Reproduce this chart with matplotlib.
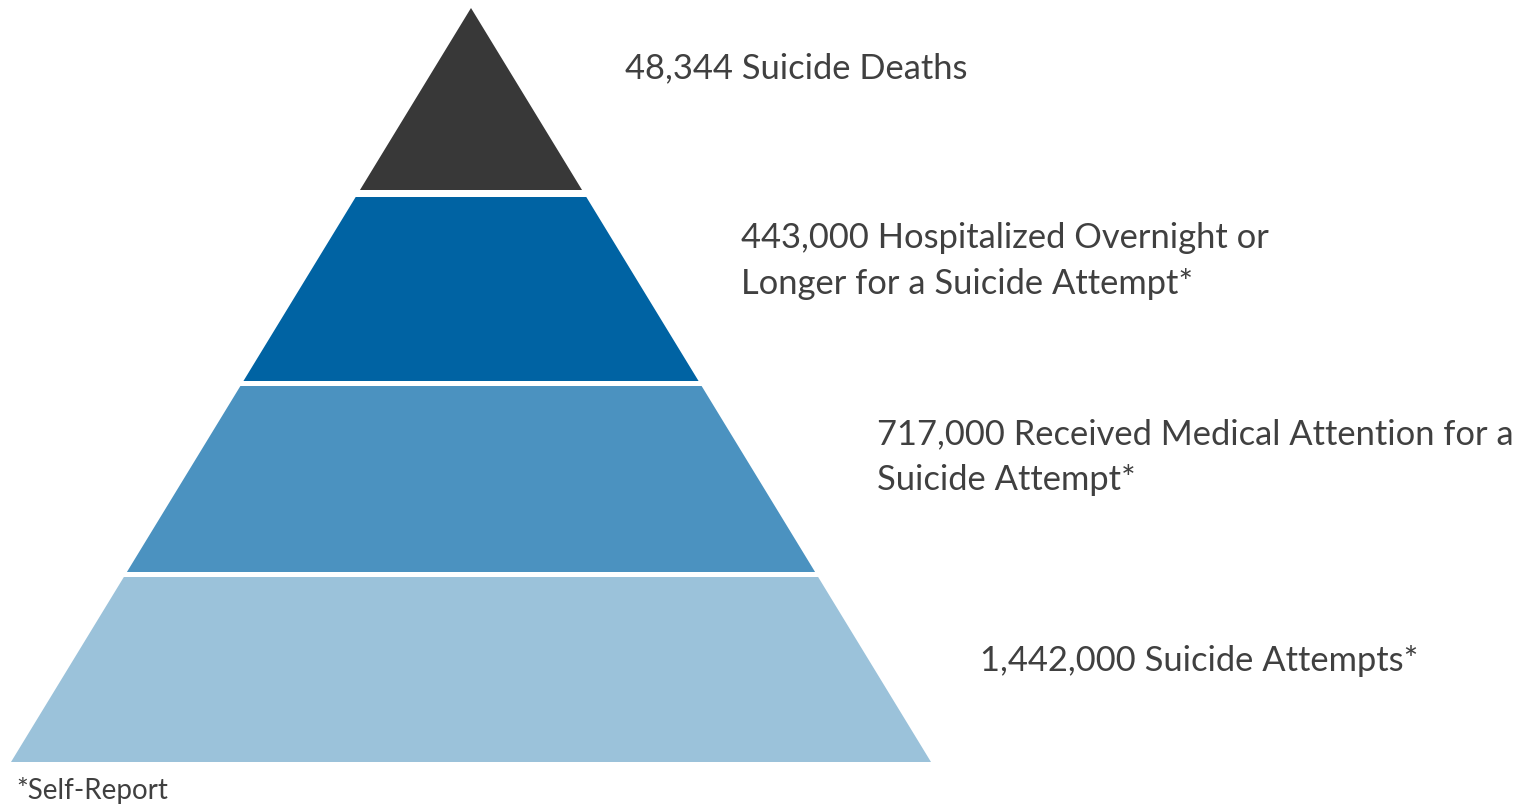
import matplotlib.pyplot as plt
from matplotlib.patches import Polygon

plt.rcParams['font.family'] = ['Lato', 'DejaVu Sans']

## data -----
counts = ['48,344', '443,000', '717,000', '1,442,000']
labels = ['48,344 Suicide Deaths',
          '443,000 Hospitalized Overnight or\nLonger for a Suicide Attempt*',
          '717,000 Received Medical Attention for a\nSuicide Attempt*',
          '1,442,000 Suicide Attempts*']
colors = ['#383838', '#0063a3', '#4b92c0', '#9bc2da']
footnote = '*Self-Report'

# pyramid geometry in pixel coords
apex_x, apex_y = 471, 8
base_y = 762
half_slope = (932 - 12) / 2 / (base_y - apex_y)
bands = [(8, 190), (197, 381), (386, 572), (577, 762)]
label_pos = [(625, 68), (741, 261), (877, 457), (980, 661)]

fig = plt.figure(figsize=(15.25, 8.06), dpi=100)
ax = fig.add_axes([0, 0, 1, 1])
ax.set_xlim(0, 1525)
ax.set_ylim(806, 0)
ax.axis('off')

for i in range(len(labels)):
    y0, y1 = bands[i]
    w0 = (y0 - apex_y) * half_slope
    w1 = (y1 - apex_y) * half_slope
    pts = [(apex_x - w0, y0), (apex_x + w0, y0), (apex_x + w1, y1), (apex_x - w1, y1)]
    ax.add_patch(Polygon(pts, closed=True, facecolor=colors[i], edgecolor='none'))
    ax.text(label_pos[i][0], label_pos[i][1], labels[i], fontsize=24.8,
            color='#404040', ha='left', va='center', linespacing=1.5)

ax.text(16, 791, footnote, fontsize=20, color='#404040', ha='left', va='center')

fig.savefig('out.png', dpi=100, facecolor='white')
